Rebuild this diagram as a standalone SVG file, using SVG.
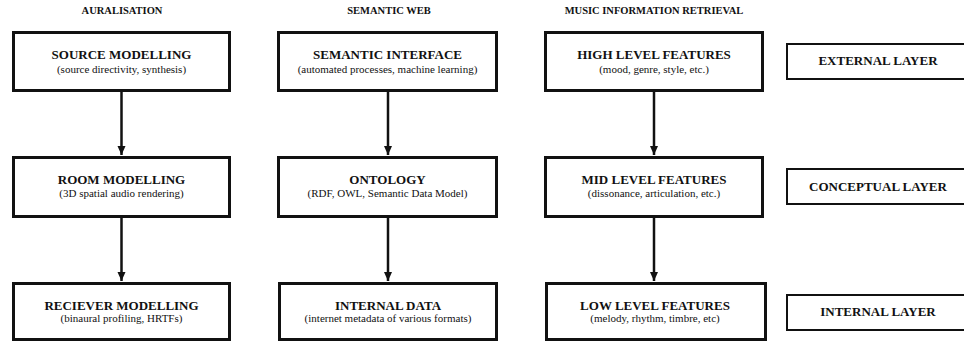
<svg xmlns="http://www.w3.org/2000/svg" width="964" height="342" viewBox="0 0 964 342">
  <style>
    .box { fill: #fff; stroke: #111; stroke-width: 3; }
    .layer { fill: #fff; stroke: #111; stroke-width: 2; }
    .head { font-family: "Liberation Serif", "Times New Roman", serif; font-weight: bold; font-size: 10.5px; fill: #111; text-anchor: middle; }
    .title { font-family: "Liberation Serif", "Times New Roman", serif; font-weight: bold; font-size: 13px; fill: #111; text-anchor: middle; }
    .sub { font-family: "Liberation Serif", "Times New Roman", serif; font-size: 11px; fill: #111; text-anchor: middle; }
    .conn { stroke: #111; stroke-width: 2.5; fill: none; }
  </style>
  <defs>
    <marker id="arrow" markerUnits="userSpaceOnUse" markerWidth="10" markerHeight="10" refX="9" refY="5" orient="auto">
      <path d="M0,1 L9,5 L0,9 Z" fill="#111"/>
    </marker>
  </defs>
  <rect width="964" height="342" fill="#fff"/>

  <!-- column headings -->
  <text class="head" x="122" y="14">AURALISATION</text>
  <text class="head" x="389" y="14">SEMANTIC WEB</text>
  <text class="head" x="654" y="14">MUSIC INFORMATION RETRIEVAL</text>

  <!-- connectors -->
  <g id="connectors">
    <line class="conn" x1="121.5" y1="92" x2="121.5" y2="155" marker-end="url(#arrow)"/>
    <line class="conn" x1="121.5" y1="218" x2="121.5" y2="281" marker-end="url(#arrow)"/>
    <line class="conn" x1="388" y1="92" x2="388" y2="155" marker-end="url(#arrow)"/>
    <line class="conn" x1="388" y1="218" x2="388" y2="281" marker-end="url(#arrow)"/>
    <line class="conn" x1="654" y1="92" x2="654" y2="155" marker-end="url(#arrow)"/>
    <line class="conn" x1="654" y1="218" x2="654" y2="281" marker-end="url(#arrow)"/>
  </g>

  <!-- auralisation column -->
  <g id="source-modelling">
    <rect class="box" x="13.5" y="32.5" width="216" height="58"/>
    <text class="title" x="121.5" y="59">SOURCE MODELLING</text>
    <text class="sub" x="121.5" y="73">(source directivity, synthesis)</text>
  </g>
  <g id="room-modelling">
    <rect class="box" x="13.5" y="157.5" width="216" height="59"/>
    <text class="title" x="121.5" y="184">ROOM MODELLING</text>
    <text class="sub" x="121.5" y="197">(3D spatial audio rendering)</text>
  </g>
  <g id="receiver-modelling">
    <rect class="box" x="13.5" y="283.5" width="216" height="56"/>
    <text class="title" x="121.5" y="310">RECIEVER MODELLING</text>
    <text class="sub" x="121.5" y="322">(binaural profiling, HRTFs)</text>
  </g>

  <!-- semantic web column -->
  <g id="semantic-interface">
    <rect class="box" x="278.5" y="32.5" width="218" height="58"/>
    <text class="title" x="387.5" y="59">SEMANTIC INTERFACE</text>
    <text class="sub" x="387.5" y="73">(automated processes, machine learning)</text>
  </g>
  <g id="ontology">
    <rect class="box" x="278.5" y="157.5" width="218" height="59"/>
    <text class="title" x="387.5" y="184">ONTOLOGY</text>
    <text class="sub" x="387.5" y="197">(RDF, OWL, Semantic Data Model)</text>
  </g>
  <g id="internal-data">
    <rect class="box" x="279.5" y="283.5" width="217" height="56"/>
    <text class="title" x="388" y="310">INTERNAL DATA</text>
    <text class="sub" x="388" y="322">(internet metadata of various formats)</text>
  </g>

  <!-- music information retrieval column -->
  <g id="high-level-features">
    <rect class="box" x="545.5" y="32.5" width="217" height="58"/>
    <text class="title" x="654" y="59">HIGH LEVEL FEATURES</text>
    <text class="sub" x="654" y="73">(mood, genre, style, etc.)</text>
  </g>
  <g id="mid-level-features">
    <rect class="box" x="545.5" y="157.5" width="217" height="59"/>
    <text class="title" x="654" y="184">MID LEVEL FEATURES</text>
    <text class="sub" x="654" y="197">(dissonance, articulation, etc.)</text>
  </g>
  <g id="low-level-features">
    <rect class="box" x="546.5" y="283.5" width="219" height="56"/>
    <text class="title" x="655" y="310">LOW LEVEL FEATURES</text>
    <text class="sub" x="655" y="322">(melody, rhythm, timbre, etc)</text>
  </g>

  <!-- layer labels -->
  <g id="external-layer">
    <rect class="layer" x="787" y="44" width="180" height="35"/>
    <text class="title" x="878" y="65">EXTERNAL LAYER</text>
  </g>
  <g id="conceptual-layer">
    <rect class="layer" x="787" y="169" width="180" height="35"/>
    <text class="title" x="878" y="191">CONCEPTUAL LAYER</text>
  </g>
  <g id="internal-layer">
    <rect class="layer" x="787" y="295" width="180" height="35"/>
    <text class="title" x="878" y="316">INTERNAL LAYER</text>
  </g>
</svg>
